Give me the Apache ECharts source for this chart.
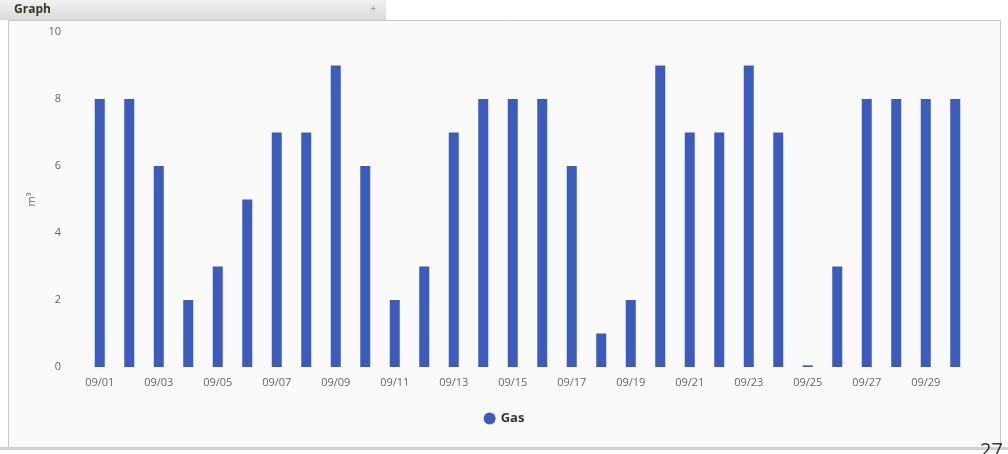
<!DOCTYPE html>
<html>
<head>
<meta charset="utf-8">
<script src="https://cdn.jsdelivr.net/npm/echarts@6/dist/echarts.min.js"></script>
<style>
  html, body { margin: 0; padding: 0; background: #ffffff; }
  #chart { width: 1008px; height: 454px; }
</style>
</head>
<body>
<div id="chart"></div>
<script>
// Daily gas consumption for September
const days = ['09/01','09/02','09/03','09/04','09/05','09/06','09/07','09/08','09/09','09/10',
              '09/11','09/12','09/13','09/14','09/15','09/16','09/17','09/18','09/19','09/20',
              '09/21','09/22','09/23','09/24','09/25','09/26','09/27','09/28','09/29','09/30'];
const gas = [8, 8, 6, 2, 3, 5, 7, 7, 9, 6,
             2, 3, 7, 8, 8, 8, 6, 1, 2, 9,
             7, 7, 9, 7, 0.05, 3, 8, 8, 8, 8];
const yTicks = [0, 2, 4, 6, 8, 10];

const chart = echarts.init(document.getElementById('chart'), null, { renderer: 'canvas' });
chart.setOption({
  animation: false,
  backgroundColor: '#ffffff',
  graphic: [
    // panel frame
    { type: 'rect', shape: { x: 8.5, y: 20.5, width: 992, height: 427 },
      style: { fill: '#fafafa', stroke: '#c8c8c8', lineWidth: 1 }, z: -10 },
    // title bar
    { type: 'rect', shape: { x: 0, y: 0, width: 386, height: 20 },
      style: { fill: new echarts.graphic.LinearGradient(0, 0, 0, 1, [
        { offset: 0, color: '#f2f2f2' }, { offset: 1, color: '#d9d9d9' }]) }, z: -9 },
    { type: 'text', left: 14, top: 4,
      style: { text: 'Graph', font: 'bold 12px "Open Sans", sans-serif', fill: '#2f3a1f' } },
    { type: 'text', left: 370, top: 3,
      style: { text: '+', font: '11px "Open Sans", sans-serif', fill: '#888888' } },
    // bottom shadow line
    { type: 'rect', shape: { x: 0, y: 447, width: 1008, height: 3 },
      style: { fill: '#d0d0d0' }, z: -8 },
    { type: 'text', left: 980, top: 441,
      style: { text: '27', font: '20px "Open Sans", sans-serif', fill: '#333333' } }
  ],
  grid: { left: 85, right: 38, top: 32, bottom: 87, containLabel: false },
  legend: {
    data: ['Gas'], bottom: 24, left: 'center',
    icon: 'circle', itemWidth: 12, itemHeight: 12, itemGap: 6,
    textStyle: { fontFamily: 'Open Sans', fontWeight: 'bold', fontSize: 13, color: '#333333' }
  },
  xAxis: {
    type: 'category', data: days,
    axisLine: { show: false }, axisTick: { show: false },
    axisLabel: { interval: 1, color: '#666666', fontFamily: 'Open Sans', fontSize: 11, margin: 10 }
  },
  yAxis: {
    type: 'value', min: yTicks[0], max: yTicks[yTicks.length - 1], interval: 2,
    name: 'm³', nameLocation: 'middle', nameGap: 46, nameRotate: 90,
    nameTextStyle: { color: '#666666', fontFamily: 'Open Sans', fontSize: 11 },
    axisLine: { show: false }, axisTick: { show: false },
    splitLine: { show: false },
    axisLabel: { color: '#666666', fontFamily: 'Open Sans', fontSize: 11, margin: 24 }
  },
  series: [{
    name: 'Gas', type: 'bar', data: gas, barWidth: 10,
    itemStyle: { color: '#3b5bbd' }
  }]
});
</script>
</body>
</html>
